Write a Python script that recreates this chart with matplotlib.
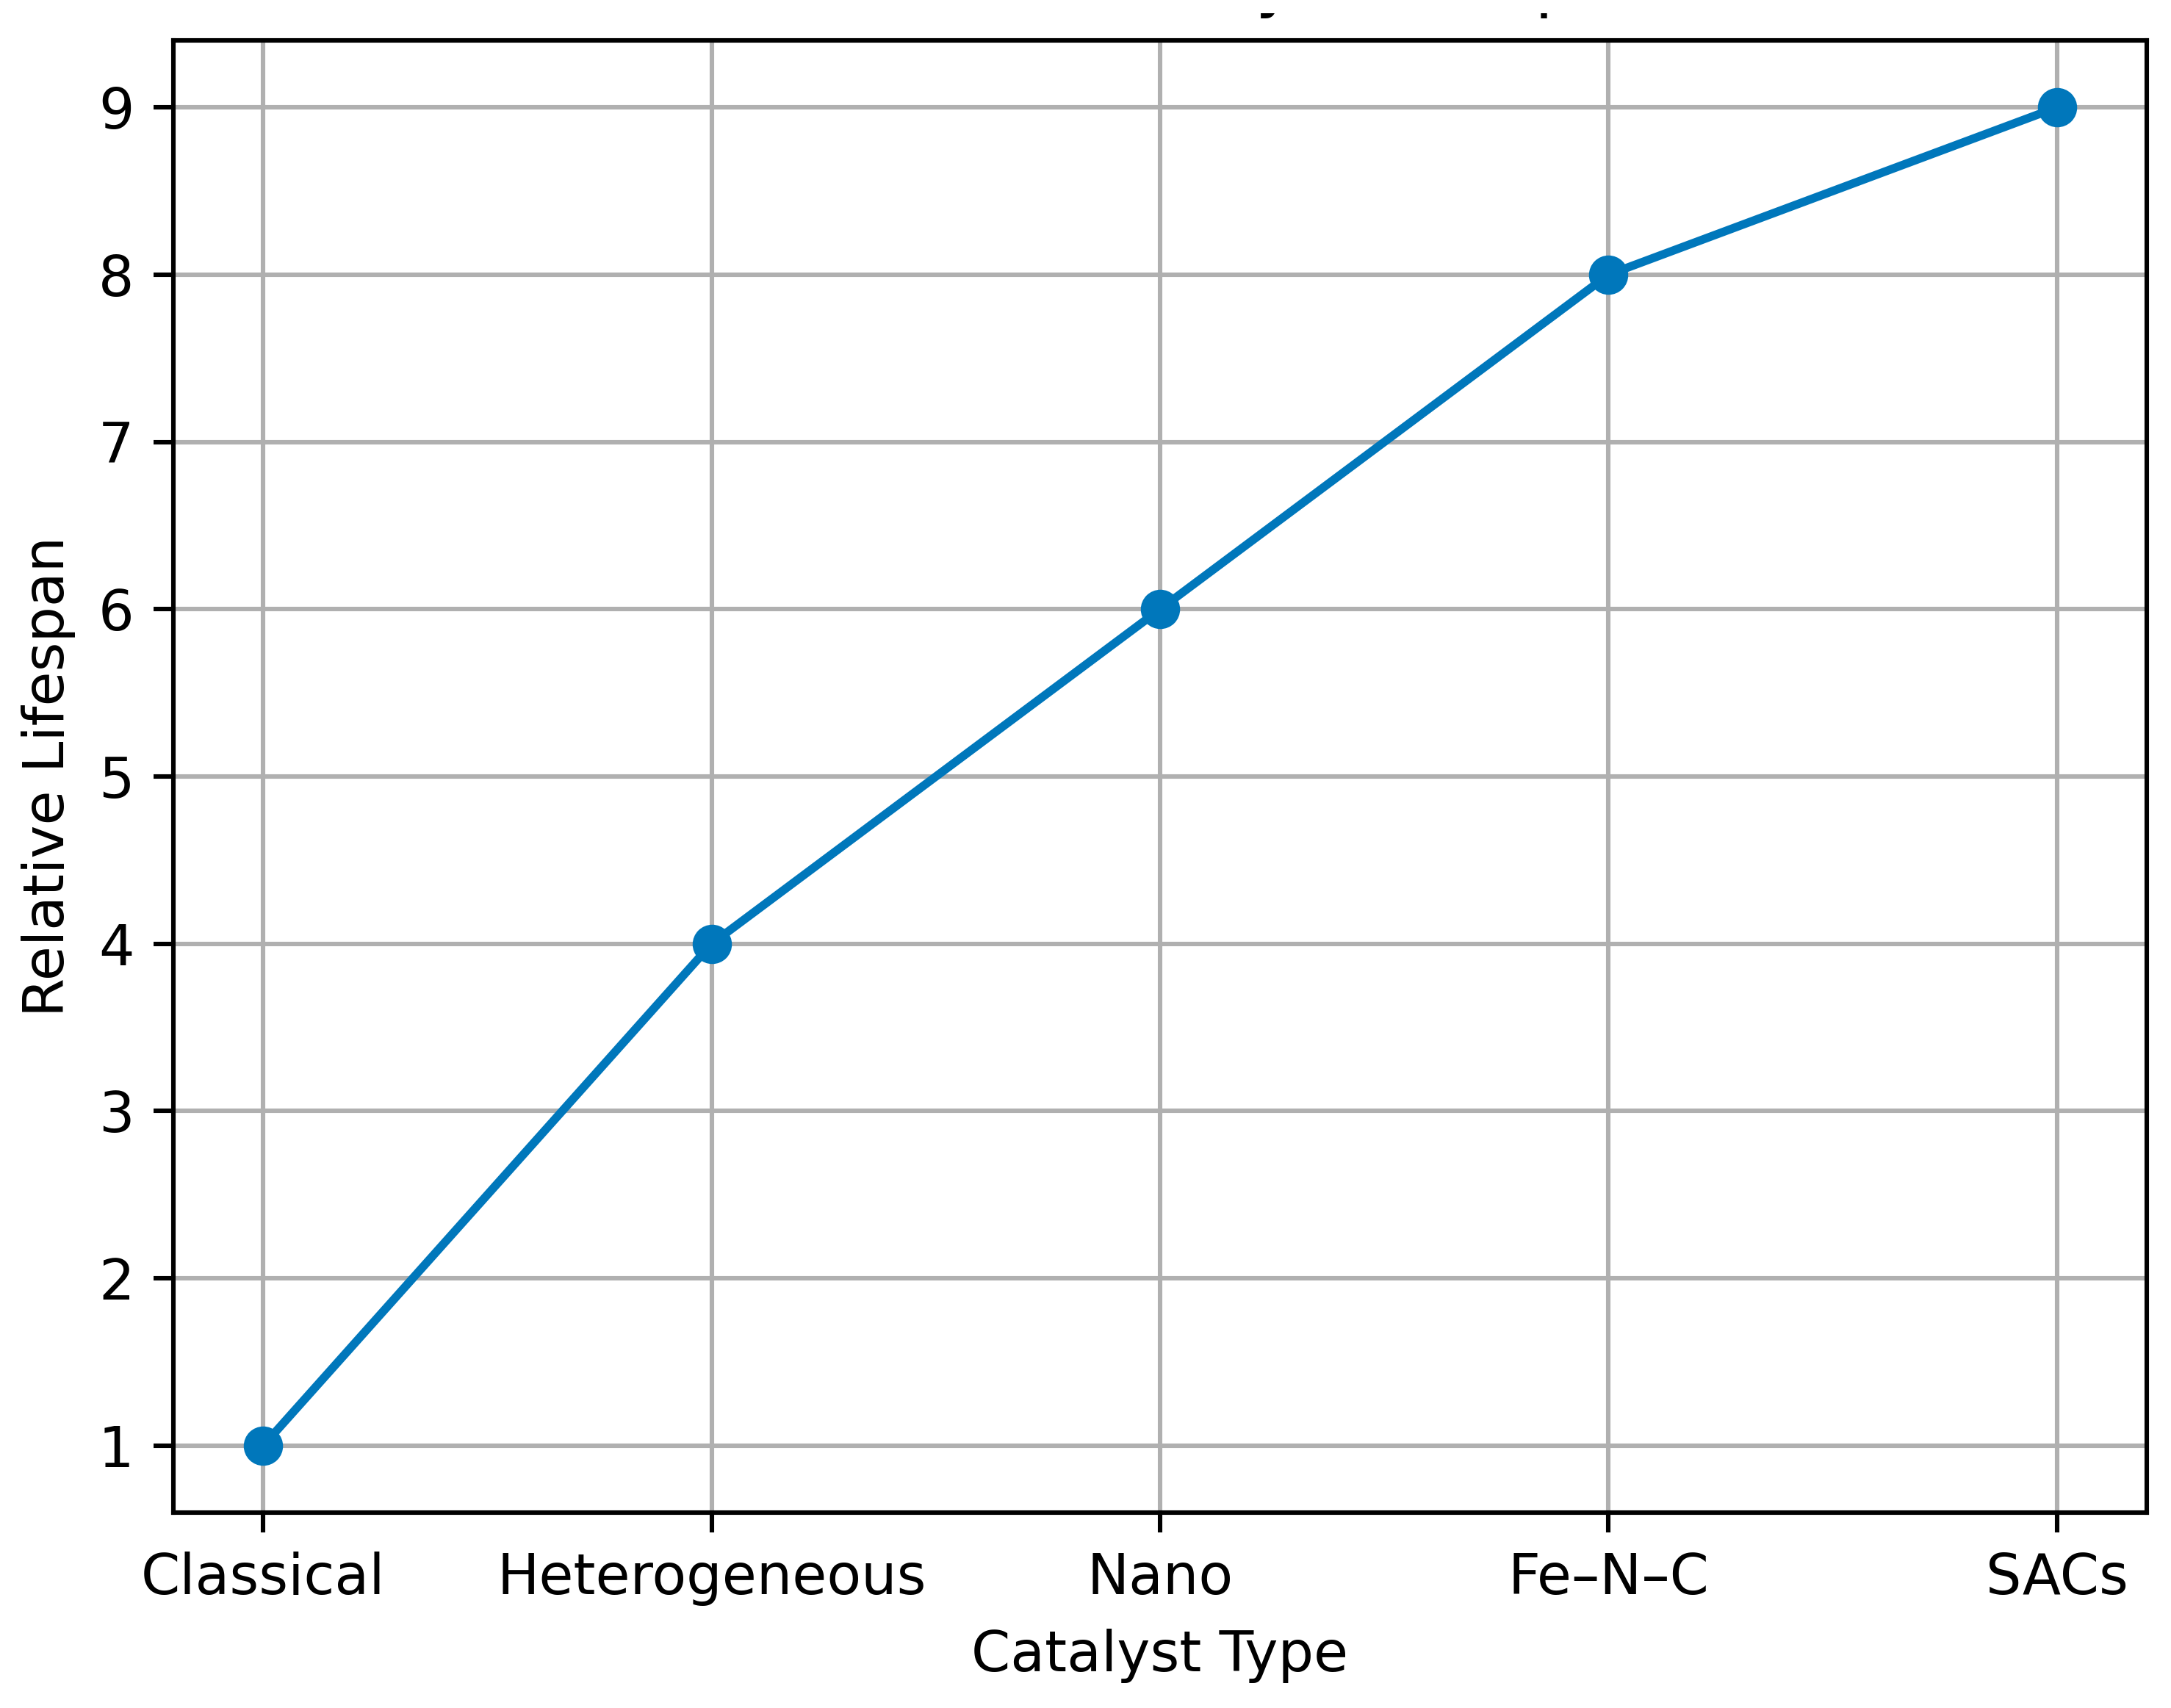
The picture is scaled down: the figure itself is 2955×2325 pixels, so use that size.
import matplotlib
matplotlib.use('Agg')
import matplotlib.pyplot as plt
from matplotlib.patches import Rectangle

# Data
catalysts = ['Classical', 'Heterogeneous', 'Nano', 'Fe–N–C', 'SACs']
lifespan = [1, 4, 6, 8, 9]

DPI = 550
W, H = 2955, 2325
fig = plt.figure(figsize=(W / DPI, H / DPI), dpi=DPI)
fig.subplots_adjust(left=0.0799, right=0.9888, top=0.9763, bottom=0.1144)
ax = fig.add_subplot(111)

ax.plot(catalysts, lifespan, marker='o', color='#0077BB', linewidth=1.5)

# title is cut off in the source, only the descenders show below a white strip
ax.set_title('Evolution of Catalyst Lifespan', pad=6.4)
ax.set_xlabel('Catalyst Type')
ax.set_ylabel('Relative Lifespan')
ax.grid(True)

strip = 18 / H
fig.patches.append(Rectangle((0, 1 - strip), 1, strip, transform=fig.transFigure,
                             facecolor='white', edgecolor='none', zorder=10))

fig.savefig('out.png', dpi=DPI)
plt.close(fig)
